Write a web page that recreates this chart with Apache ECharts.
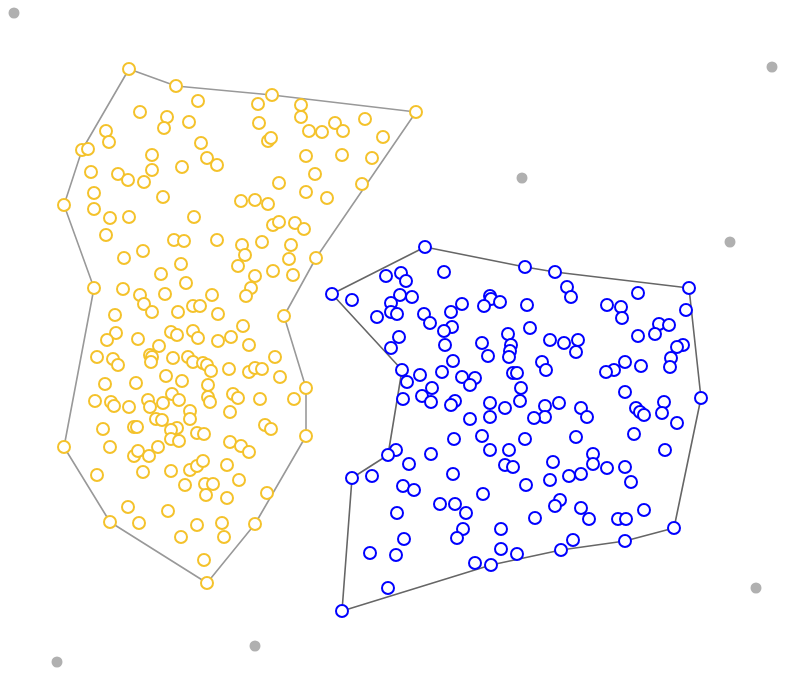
<!DOCTYPE html>
<html>
<head>
<meta charset="utf-8">
<script src="https://cdn.jsdelivr.net/npm/echarts@6/dist/echarts.min.js"></script>
<style>html,body{margin:0;padding:0;background:#fff;}#chart{width:800px;height:677px;}</style>
</head>
<body>
<div id="chart"></div>
<script>
var yellowPoints = [
[129,69],[176,86],[198,101],[140,112],[167,117],[164,128],[189,122],[106,131],[109,142],[82,150],[88,149],[201,143],[152,155],[207,158],[217,165],[182,167],[91,172],[118,174],[128,180],[152,170],[144,182],[94,193],[64,205],[94,209],[110,218],[129,217],[163,197],[194,217],
[272,95],[258,104],[301,105],[416,112],[259,123],[301,117],[365,119],[335,123],[309,131],[322,132],[343,131],[383,137],[268,141],[271,138],[306,156],[342,155],[372,158],[315,174],[279,183],[362,184],[306,192],[327,198],[241,201],[255,200],[268,204],[273,225],[279,222],[295,223],[304,229],
[106,235],[174,240],[184,241],[217,240],[143,251],[124,258],[181,264],[161,274],[186,283],[94,288],[123,289],[165,294],[140,295],[144,304],[152,312],[212,295],[193,306],[200,306],[178,312],[218,314],[115,315],[116,333],[107,340],[138,339],[171,332],[177,335],[193,331],[198,338],[218,341],[231,337],[159,346],[97,357],[113,359],[118,365],[150,355],[152,357],[151,362],[173,358],[188,357],[193,362],[203,363],[207,365],[211,371],[229,369],[166,376],[182,381],[105,384],[136,383],[208,385],[172,394],[179,400],[208,397],[233,394],[95,401],[111,402],[148,400],[163,403],[210,402],[238,398],
[242,245],[245,255],[262,242],[291,245],[289,259],[316,258],[238,266],[273,271],[293,275],[255,276],[251,288],[246,296],[284,316],[243,326],[249,345],[275,357],[249,372],[255,368],[262,369],[280,377],[306,388],[260,399],[294,399],
[114,406],[129,407],[150,407],[190,411],[190,419],[230,412],[103,429],[134,427],[137,427],[156,419],[162,420],[177,428],[171,430],[171,439],[179,441],[197,433],[204,434],[64,447],[110,447],[158,447],[134,456],[138,451],[149,456],[230,442],[97,475],[143,472],[171,471],[190,470],[197,466],[203,461],[227,465],[185,485],[205,484],[213,484],[206,495],[227,498],[128,507],[168,511],[110,522],[139,523],[197,525],[222,523],[181,537],[224,537],[204,560],[207,583],
[265,425],[271,429],[306,436],[241,446],[249,452],[239,480],[267,493],[255,524]
];
var bluePoints = [
[425,247],[444,272],[386,276],[401,273],[406,281],[332,294],[352,300],[400,295],[412,297],[391,303],[391,312],[397,314],[377,317],[424,314],[430,323],[451,312],[462,304],[452,327],[444,331],[490,296],[491,299],[484,306],[500,302],[399,337],[391,348],[445,345],[482,343],[488,356],[508,334],[511,345],[510,351],[509,357],[453,361],[402,370],[420,375],[442,372],[407,382],[462,377],[475,378],[470,385],[432,388],[403,399],[422,396],[431,402],[455,401],[451,405],[490,403],[505,408],[490,417],[470,419],[513,373],[517,373],[521,388],[520,401],
[525,267],[555,272],[689,288],[567,287],[571,297],[638,293],[527,305],[607,305],[621,307],[622,318],[686,310],[530,328],[659,324],[669,325],[655,334],[638,336],[550,340],[564,343],[578,340],[576,352],[683,345],[677,347],[671,358],[670,367],[542,362],[546,370],[625,362],[614,370],[606,372],[641,366],[701,398],[625,392],[664,402],[636,408],[640,412],[644,415],[662,413],[559,403],[545,406],[545,417],[534,418],[581,408],[587,417],[677,423],
[454,439],[482,436],[490,450],[509,450],[505,465],[513,467],[396,450],[388,455],[409,464],[431,454],[453,474],[352,478],[372,476],[403,486],[414,490],[483,494],[440,504],[455,504],[466,513],[397,513],[463,529],[457,538],[501,529],[404,539],[370,553],[396,555],[501,549],[517,554],[475,563],[491,565],[388,588],[342,611],
[525,439],[576,437],[634,434],[665,450],[593,454],[593,464],[553,462],[607,468],[625,467],[569,476],[581,474],[550,480],[631,482],[526,485],[560,500],[555,506],[581,508],[589,519],[618,519],[626,519],[644,510],[535,518],[674,528],[573,540],[625,541],[561,550]
];
var grayPoints = [[14,13],[772,67],[522,178],[730,242],[57,662],[255,646],[756,588]];
var yellowHull = [[129,69],[176,86],[272,95],[416,112],[316,258],[284,316],[306,388],[306,436],[255,524],[207,583],[110,522],[64,447],[94,288],[64,205],[82,150],[129,69]];
var blueHull = [[425,247],[525,267],[555,272],[689,288],[701,398],[674,528],[625,541],[561,550],[491,565],[342,611],[352,478],[388,455],[402,370],[332,294],[425,247]];

var chart = echarts.init(document.getElementById('chart'), null, {renderer: 'canvas'});
chart.setOption({
  animation: false,
  backgroundColor: '#fff',
  grid: {left: 0, right: 0, top: 0, bottom: 0},
  xAxis: {type: 'value', min: 0, max: 800, show: false},
  yAxis: {type: 'value', min: 0, max: 677, inverse: true, show: false},
  series: [
    {type: 'line', data: yellowHull, showSymbol: false, symbol: 'none', z: 1,
     lineStyle: {color: '#999999', width: 1.6}},
    {type: 'line', data: blueHull, showSymbol: false, symbol: 'none', z: 1,
     lineStyle: {color: '#666666', width: 1.6}},
    {type: 'scatter', data: grayPoints, symbol: 'circle', symbolSize: 11, z: 2,
     itemStyle: {color: '#b0b0b0', opacity: 1}},
    {type: 'scatter', data: yellowPoints, symbol: 'emptyCircle', symbolSize: 12, z: 3,
     itemStyle: {color: '#f4c22b', borderWidth: 1.6, opacity: 1}},
    {type: 'scatter', data: bluePoints, symbol: 'emptyCircle', symbolSize: 12, z: 3,
     itemStyle: {color: '#0000ff', borderWidth: 1.6, opacity: 1}}
  ]
});
</script>
</body>
</html>
